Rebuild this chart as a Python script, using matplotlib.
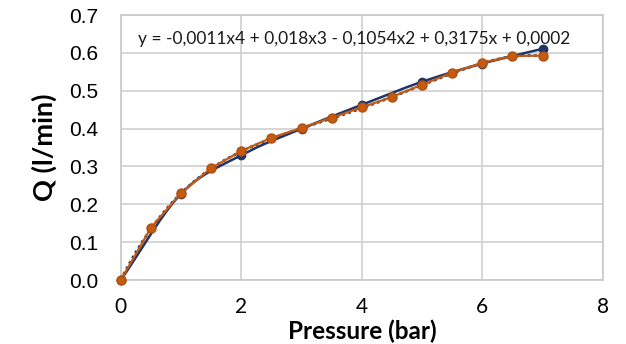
import numpy as np
import matplotlib.pyplot as plt

# measured flow vs pressure
p_blue = [0, 1, 2, 3, 4, 5, 6, 7]
q_blue = [0.0, 0.228, 0.330, 0.400, 0.463, 0.524, 0.572, 0.611]

p_orange = [0, 0.5, 1, 1.5, 2, 2.5, 3, 3.5, 4, 4.5, 5, 5.5, 6, 6.5, 7]
q_orange = [0.0, 0.138, 0.230, 0.296, 0.341, 0.376, 0.402, 0.429, 0.456,
            0.484, 0.516, 0.548, 0.574, 0.592, 0.593]

# 4th order trendline coefficients (highest power first)
coef = [-0.0011, 0.018, -0.1054, 0.3175, 0.0002]
eq_label = 'y = -0,0011x4 + 0,018x3 - 0,1054x2 + 0,3175x + 0,0002'

navy = '#1f3468'
orange = '#c55a11'


def smooth(x, y, n=30):
    # catmull-rom curve through the points, like a smoothed line in excel
    x = np.asarray(x, float)
    y = np.asarray(y, float)
    px = np.concatenate([[2 * x[0] - x[1]], x, [2 * x[-1] - x[-2]]])
    py = np.concatenate([[2 * y[0] - y[1]], y, [2 * y[-1] - y[-2]]])
    t = np.linspace(0, 1, n)
    ox, oy = [], []
    for i in range(1, len(px) - 2):
        for p, o in ((px, ox), (py, oy)):
            p0, p1, p2, p3 = p[i - 1], p[i], p[i + 1], p[i + 2]
            o.extend(0.5 * (2 * p1 + (-p0 + p2) * t
                            + (2 * p0 - 5 * p1 + 4 * p2 - p3) * t ** 2
                            + (-p0 + 3 * p1 - 3 * p2 + p3) * t ** 3))
    return ox, oy


fig = plt.figure(figsize=(6.26, 3.44), dpi=100)
ax = fig.add_axes([0.193, 0.186, 0.770, 0.770])

xs = np.linspace(0, 7, 200)
ax.plot(xs, np.polyval(coef, xs), color=navy, lw=2, ls=(0, (1, 1.2)), zorder=2)
sx, sy = smooth(p_blue, q_blue)
ax.plot(sx, sy, color=navy, lw=1.8, zorder=3)
ax.plot(p_blue, q_blue, ls='none', color=navy, marker='o', ms=6, zorder=3,
        clip_on=False)
ax.plot(p_orange, q_orange, color=orange, lw=1.6, marker='o', ms=6.5,
        mfc=orange, mec='#b05010', zorder=4, clip_on=False)

ax.set_xlim(0, 8)
ax.set_ylim(0, 0.7)
ax.set_xticks(range(0, 9, 2))
ax.set_yticks(np.arange(0, 0.71, 0.1))
ax.set_yticklabels(['%.1f' % v for v in np.arange(0, 0.71, 0.1)],
                   family='Liberation Sans', fontsize=15)
ax.set_xticklabels([str(v) for v in range(0, 9, 2)], family='Lato', fontsize=15)
ax.tick_params(length=0)
ax.tick_params(axis='x', pad=12)
ax.tick_params(axis='y', pad=16)
ax.grid(color='#d0d0d0', lw=1.2)
ax.set_axisbelow(True)
for s in ax.spines.values():
    s.set_color('#c8c8c8')
    s.set_linewidth(1.2)

ax.set_xlabel('Pressure (bar)', family='Lato', fontweight='bold', fontsize=17.5,
              labelpad=2)
ax.set_ylabel('Q (l/min)', family='Lato', fontweight='bold', fontsize=19.5,
              labelpad=9)

ax.text(0.485, 0.91, eq_label, transform=ax.transAxes, ha='center', va='center',
        family='Lato', fontsize=12.5, color='#1a1a1a')

fig.savefig('out.png', dpi=100)
